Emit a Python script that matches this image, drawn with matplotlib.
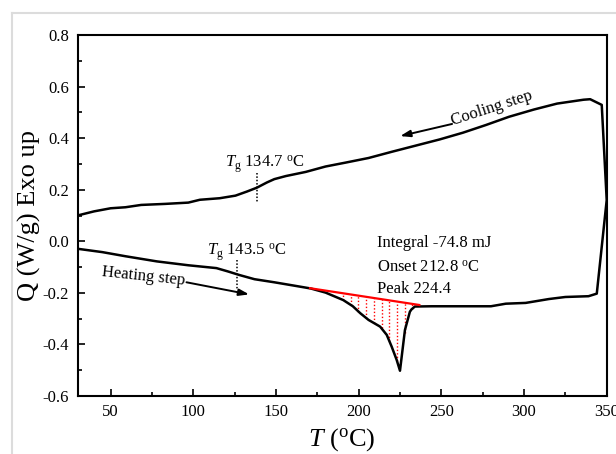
import numpy as np
import matplotlib
matplotlib.use("Agg")
import matplotlib.pyplot as plt
from matplotlib.lines import Line2D

plt.rcParams['font.family'] = ['Liberation Serif', 'DejaVu Serif']
plt.rcParams['mathtext.fontset'] = 'custom'
plt.rcParams['mathtext.rm'] = 'Liberation Serif'
plt.rcParams['mathtext.it'] = 'Liberation Serif:italic'

# ---- data ----
heating_T = [30, 45, 59, 78, 97, 114, 121, 128, 137, 149, 161, 171, 180, 190.7,
             196.5, 201, 206, 213, 217, 220, 223, 225, 228, 231, 232, 234,
             244, 263, 280, 289, 301, 315, 325, 339, 344]
heating_Q = [-0.029, -0.042, -0.058, -0.078, -0.093, -0.104, -0.117, -0.131,
             -0.147, -0.159, -0.172, -0.183, -0.199, -0.228, -0.252, -0.279,
             -0.305, -0.331, -0.363, -0.409, -0.46, -0.502, -0.344, -0.273,
             -0.264, -0.253, -0.252, -0.252, -0.252, -0.242, -0.239, -0.224,
             -0.216, -0.213, -0.203]

cooling_T = [350, 347, 340, 336, 320, 306, 291, 277, 263, 249, 234.5, 220, 206,
             192, 180, 168, 156, 149, 144.5, 138.5, 132.5, 125.5, 116, 104, 97,
             83, 68.5, 59, 50, 40, 30]
cooling_Q = [0.16, 0.529, 0.551, 0.549, 0.534, 0.511, 0.483, 0.451, 0.421,
             0.395, 0.371, 0.347, 0.323, 0.305, 0.290, 0.269, 0.253, 0.241,
             0.228, 0.208, 0.193, 0.177, 0.167, 0.161, 0.150, 0.145, 0.141,
             0.132, 0.128, 0.116, 0.100]

baseline_T = [170.6, 236.7]
baseline_Q = [-0.182, -0.247]

tg_cool_T = 138.7
tg_heat_T = 126.2

xticks = [50, 100, 150, 200, 250, 300, 350]
yticks = [-0.6, -0.4, -0.2, 0.0, 0.2, 0.4, 0.6, 0.8]

# ---- figure ----
fig = plt.figure(figsize=(6.16, 4.54), dpi=100)
ax = fig.add_axes([77.5 / 616, 1 - 396 / 454, (606.7 - 77.5) / 616, (396 - 35) / 454])

# light gray outer frame
fig.add_artist(Line2D([11.5 / 616, 11.5 / 616], [0, 1 - 13 / 454],
                      transform=fig.transFigure, color='#dcdcdc', lw=1.5))
fig.add_artist(Line2D([11.5 / 616, 1], [1 - 13 / 454, 1 - 13 / 454],
                      transform=fig.transFigure, color='#dcdcdc', lw=1.5))

allT = np.concatenate([heating_T, cooling_T])
allQ = np.concatenate([heating_Q, cooling_Q])
ax.plot(allT, allQ, color='black', lw=1.8, solid_joinstyle='round', zorder=3)

# baseline and hatching
ax.plot(baseline_T, baseline_Q, color='red', lw=1.6, zorder=4)
hatch_T = np.arange(190.6, 233.5, 4.65)
top = np.interp(hatch_T, baseline_T, baseline_Q)
bot = np.interp(hatch_T, heating_T, heating_Q)
ax.vlines(hatch_T, bot, top, colors='red', linestyles=(0, (1, 1.5)), lw=1.0, zorder=2)

# Tg markers
ax.plot([tg_cool_T, tg_cool_T], [0.264, 0.150], color='black', lw=1.1, ls=(0, (1, 1.2)))
ax.plot([tg_heat_T, tg_heat_T], [-0.072, -0.189], color='black', lw=1.1, ls=(0, (1, 1.2)))
ax.text(119.2, 0.289, r'$T_{\rm g}$ 134.7 $^{\rm o}$C', fontsize=12, ha='left', va='baseline')
ax.text(108.1, -0.053, r'$T_{\rm g}$ 143.5 $^{\rm o}$C', fontsize=12, ha='left', va='baseline')

# annotations
ax.text(211, -0.021, 'Integral -74.8 mJ', fontsize=12, ha='left', va='baseline')
ax.text(211, -0.118, r'Onset 212.8 $^{\rm o}$C', fontsize=12, ha='left', va='baseline')
ax.text(211, -0.199, 'Peak 224.4', fontsize=12, ha='left', va='baseline')

ax.text(257, 0.452, 'Cooling step', fontsize=12, rotation=18, rotation_mode='anchor',
        ha='left', va='baseline')
ax.annotate('', xy=(225.1, 0.408), xytext=(256.5, 0.455),
            arrowprops=dict(arrowstyle='-|>,head_length=0.6,head_width=0.2',
                            color='black', lw=1.4, shrinkA=0, shrinkB=0))
ax.text(44.6, -0.134, 'Heating step', fontsize=12, rotation=-6, rotation_mode='anchor',
        ha='left', va='baseline')
ax.annotate('', xy=(133.8, -0.206), xytext=(95.9, -0.159),
            arrowprops=dict(arrowstyle='-|>,head_length=0.6,head_width=0.2',
                            color='black', lw=1.4, shrinkA=0, shrinkB=0))

# axes formatting
ax.set_xlim(30, 350)
ax.set_ylim(-0.6, 0.8)
ax.set_xticks(xticks)
ax.set_yticks(yticks)
ax.set_xticklabels([str(v) for v in xticks])
ax.set_yticklabels(['%.1f' % v for v in yticks])
ax.set_xticks(np.arange(75, 350, 50), minor=True)
ax.set_yticks(np.arange(-0.5, 0.8, 0.2), minor=True)
ax.tick_params(which='major', direction='in', length=5, width=1.2, labelsize=12, pad=6,
               top=False, right=False)
ax.tick_params(which='minor', direction='in', length=3, width=1.2, top=False, right=False)
for s in ax.spines.values():
    s.set_linewidth(1.5)

ax.set_xlabel(r'$T$ ($^{\rm o}$C)', fontsize=19, labelpad=4)
ax.set_ylabel('Q (W/g) Exo up', fontsize=19, labelpad=1)

fig.savefig('out.png', dpi=100)
